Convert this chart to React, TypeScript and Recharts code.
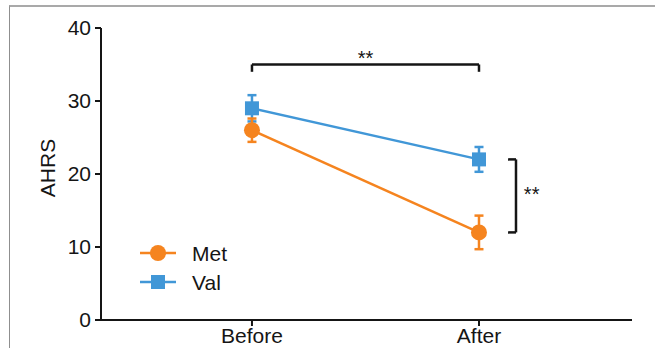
import React from 'react';
import { LineChart, Line, XAxis, YAxis, ErrorBar, ReferenceLine, ReferenceDot, Legend } from 'recharts';

const categories = ['Before', 'After'];
const metValues = [26, 12];
const metErrors = [1.6, 2.3];
const valValues = [29, 22];
const valErrors = [1.8, 1.7];
const yTicks = [0, 10, 20, 30, 40];
const seriesNames = ['Met', 'Val'];

const ORANGE = '#F5841F';
const BLUE = '#4197D7';
const INK = '#151515';
const FONT = '"Liberation Sans", Arial, Helvetica, sans-serif';

const data = categories.map((c, i) => ({
  x: i,
  name: c,
  met: metValues[i],
  metErr: metErrors[i],
  val: valValues[i],
  valErr: valErrors[i],
}));

const CircleDot = (props: any) => {
  const { cx, cy, index } = props;
  return <circle key={`m-${index}`} cx={cx} cy={cy} r={8} fill={ORANGE} />;
};
const SquareDot = (props: any) => {
  const { cx, cy, index } = props;
  return <rect key={`v-${index}`} x={cx - 7} y={cy - 7} width={14} height={14} fill={BLUE} />;
};

const LegendContent = () => (
  <svg width={110} height={60} style={{ display: 'block', fontFamily: FONT }}>
    <line x1={3} y1={15} x2={39} y2={15} stroke={ORANGE} strokeWidth={2.5} />
    <circle cx={21} cy={15} r={8} fill={ORANGE} />
    <text x={55} y={15} dominantBaseline="central" fontSize={21} fill={INK}>{seriesNames[0]}</text>
    <line x1={3} y1={44} x2={39} y2={44} stroke={BLUE} strokeWidth={2.5} />
    <rect x={14} y={37} width={14} height={14} fill={BLUE} />
    <text x={55} y={44} dominantBaseline="central" fontSize={21} fill={INK}>{seriesNames[1]}</text>
  </svg>
);

const YLabel = (props: any) => {
  const vb = props.viewBox || {};
  const x = vb.x + 47.5;
  const y = vb.y + vb.height / 2 - 6;
  return (
    <text x={x} y={y} transform={`rotate(-90, ${x}, ${y})`} textAnchor="middle" dominantBaseline="central" fontSize={21} fill={INK} fontFamily={FONT}>
      AHRS
    </text>
  );
};

export default function App() {
  return (
    <div style={{ position: 'absolute', left: 0, top: 0, width: 655, height: 348, overflow: 'hidden', background: '#fff' }}>
      <div style={{ position: 'absolute', left: 9, top: 5, width: 700, height: 400, borderTop: '2px solid #a9a9a9', borderLeft: '1px solid #8f8f8f' }} />
      <LineChart
        width={655}
        height={348}
        data={data}
        margin={{ top: 28, right: 23, bottom: 0, left: 0 }}
        style={{ fontFamily: FONT, position: 'absolute', left: 0, top: 0 }}
      >
        <XAxis
          dataKey="x"
          type="number"
          domain={[-0.665, 1.674]}
          ticks={[0, 1]}
          allowDataOverflow
          tickFormatter={(v: number) => categories[v]}
          height={28}
          axisLine={{ stroke: INK, strokeWidth: 2 }}
          tickLine={{ stroke: INK, strokeWidth: 2 }}
          tickSize={6}
          tick={{ fill: INK, fontSize: 21, fontFamily: FONT }}
        />
        <YAxis
          type="number"
          domain={[0, 40]}
          ticks={yTicks}
          width={101}
          axisLine={{ stroke: INK, strokeWidth: 2 }}
          tickLine={{ stroke: INK, strokeWidth: 2 }}
          tickSize={6}
          tickMargin={4}
          tick={{ fill: INK, fontSize: 21, fontFamily: FONT }}
          label={<YLabel />}
        />
        <Legend
          layout="horizontal"
          verticalAlign="middle"
          align="center"
          content={<LegendContent />}
          wrapperStyle={{ position: 'absolute', left: 137, top: 238, width: 110, height: 60 }}
        />
        <ReferenceLine segment={[{ x: 0, y: 35 }, { x: 1, y: 35 }]} stroke={INK} strokeWidth={2.5} ifOverflow="visible" />
        <ReferenceLine segment={[{ x: 0, y: 35 }, { x: 0, y: 34 }]} stroke={INK} strokeWidth={2.5} ifOverflow="visible" />
        <ReferenceLine segment={[{ x: 1, y: 35 }, { x: 1, y: 34 }]} stroke={INK} strokeWidth={2.5} ifOverflow="visible" />
        <ReferenceLine segment={[{ x: 1.163, y: 22 }, { x: 1.163, y: 12 }]} stroke={INK} strokeWidth={2.5} ifOverflow="visible" />
        <ReferenceLine segment={[{ x: 1.128, y: 22 }, { x: 1.163, y: 22 }]} stroke={INK} strokeWidth={2.5} ifOverflow="visible" />
        <ReferenceLine segment={[{ x: 1.128, y: 12 }, { x: 1.163, y: 12 }]} stroke={INK} strokeWidth={2.5} ifOverflow="visible" />
        <ReferenceDot x={0.5} y={35.85} r={0} fill="none" stroke="none" ifOverflow="visible"
          label={{ value: '**', position: 'center', fill: INK, fontSize: 20, fontFamily: FONT }} />
        <ReferenceDot x={1.232} y={17.25} r={0} fill="none" stroke="none" ifOverflow="visible"
          label={{ value: '**', position: 'center', fill: INK, fontSize: 20, fontFamily: FONT }} />
        <Line
          type="linear"
          dataKey="val"
          name={seriesNames[1]}
          stroke={BLUE}
          strokeWidth={2.5}
          dot={SquareDot}
          activeDot={false}
          isAnimationActive={false}
        >
          <ErrorBar dataKey="valErr" direction="y" width={4.5} stroke={BLUE} strokeWidth={2.5} />
        </Line>
        <Line
          type="linear"
          dataKey="met"
          name={seriesNames[0]}
          stroke={ORANGE}
          strokeWidth={2.5}
          dot={CircleDot}
          activeDot={false}
          isAnimationActive={false}
        >
          <ErrorBar dataKey="metErr" direction="y" width={4.5} stroke={ORANGE} strokeWidth={2.5} />
        </Line>
      </LineChart>
    </div>
  );
}
